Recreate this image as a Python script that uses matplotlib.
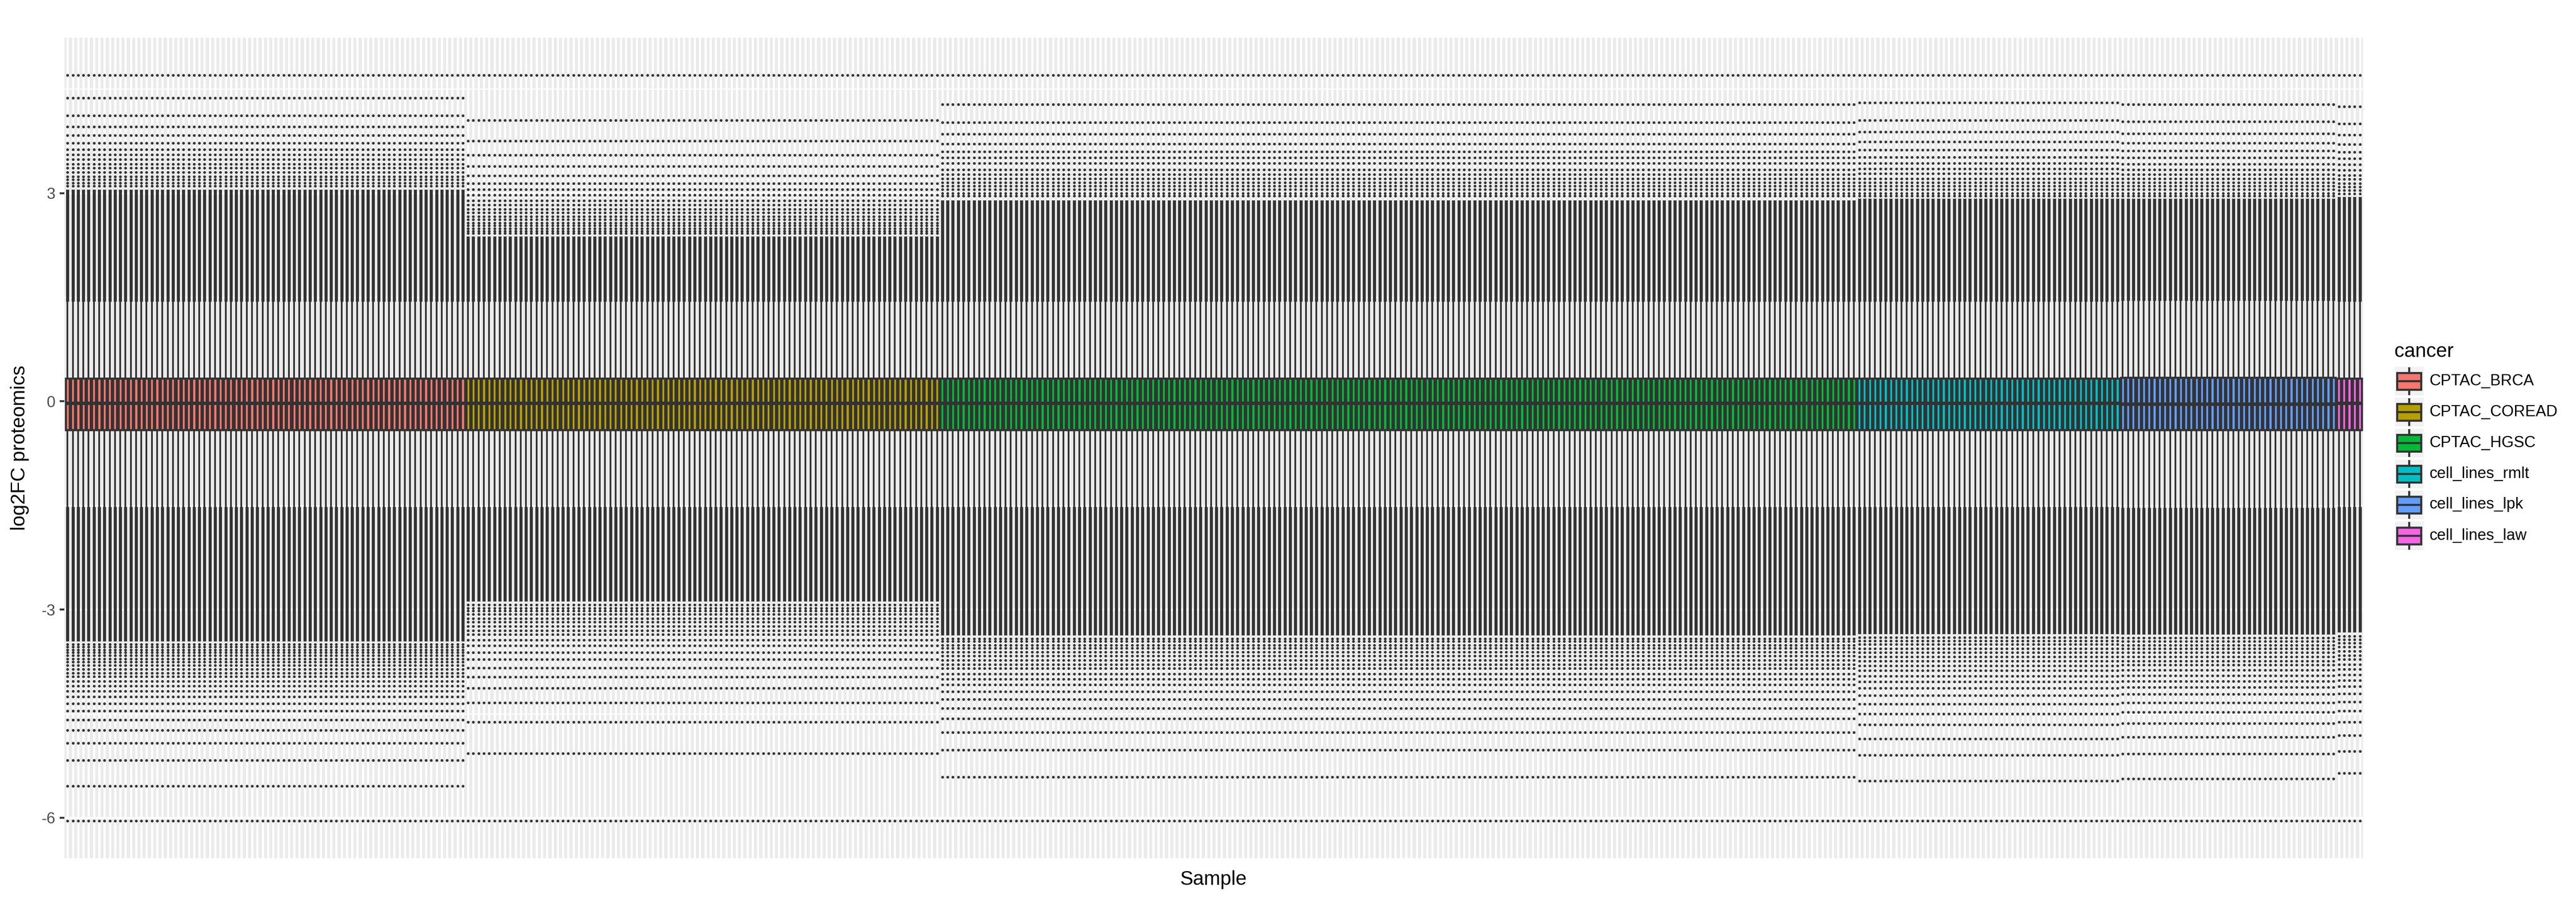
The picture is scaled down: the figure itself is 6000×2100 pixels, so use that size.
import numpy as np
import matplotlib
matplotlib.use("Agg")
import matplotlib.pyplot as plt
from matplotlib.patches import Rectangle
from matplotlib.lines import Line2D

plt.rcParams['font.family'] = ['Liberation Sans', 'DejaVu Sans']

# ---------------- data ----------------
cancers = ["CPTAC_BRCA", "CPTAC_COREAD", "CPTAC_HGSC",
           "cell_lines_rmlt", "cell_lines_lpk", "cell_lines_law"]
n_samples = [76, 90, 174, 50, 41, 5]
fill_colors = ["#F8766D", "#B79F00", "#00BA38", "#00BFC4", "#619CFF", "#F564E3"]

# box statistics per cancer group (log2FC)
q1_vals = [-0.41, -0.41, -0.41, -0.41, -0.41, -0.41]
median_vals = [-0.03, -0.03, -0.03, -0.03, -0.04, -0.03]
q3_vals = [0.33, 0.33, 0.33, 0.33, 0.34, 0.33]
whisker_low = [-1.52, -1.52, -1.52, -1.52, -1.53, -1.52]
whisker_high = [1.44, 1.44, 1.44, 1.44, 1.45, 1.44]

# extreme constant outlier rows shared by all samples
outlier_max = 4.70
outlier_min = -6.045

# outer end of the dense (merged) runs of outliers next to the whiskers
dense_top_end = [3.05, 2.38, 2.90, 2.92, 2.92, 2.95]
dense_bottom_end = [-3.46, -2.88, -3.37, -3.35, -3.36, -3.33]

# separated outlier rows above the dense run
top_outliers = [
    [4.37, 4.12, 3.955, 3.83, 3.72, 3.63, 3.556, 3.488, 3.42, 3.36, 3.30, 3.24, 3.195, 3.147, 3.10],
    [4.05, 3.75, 3.55, 3.39, 3.25, 3.14, 3.05, 2.97, 2.89, 2.83, 2.77, 2.716, 2.66, 2.62, 2.57, 2.53, 2.49, 2.45, 2.42],
    [4.28, 4.02, 3.85, 3.71, 3.60, 3.51, 3.43, 3.34, 3.27, 3.205, 3.15, 3.10, 3.05, 3.00, 2.96],
    [4.30, 4.05, 3.88, 3.74, 3.62, 3.52, 3.43, 3.35, 3.28, 3.21, 3.15, 3.10, 3.05, 3.00, 2.96],
    [4.28, 4.03, 3.86, 3.72, 3.61, 3.51, 3.42, 3.34, 3.27, 3.21, 3.15, 3.10, 3.05, 3.00, 2.96],
    [4.25, 4.00, 3.84, 3.70, 3.59, 3.50, 3.41, 3.33, 3.26, 3.20, 3.14, 3.09, 3.04, 2.99],
]
# separated outlier rows below the dense run
bottom_outliers = [
    [-3.50, -3.54, -3.58, -3.62, -3.66, -3.71, -3.757, -3.806, -3.858, -3.914, -3.967, -4.03,
     -4.10, -4.174, -4.257, -4.356, -4.46, -4.587, -4.74, -4.925, -5.17, -5.54],
    [-2.93, -2.98, -3.02, -3.07, -3.13, -3.18, -3.24, -3.30, -3.36, -3.44, -3.52, -3.62,
     -3.72, -3.84, -3.97, -4.13, -4.34, -4.62, -5.07],
    [-3.42, -3.46, -3.51, -3.556, -3.61, -3.67, -3.73, -3.79, -3.85, -3.93, -4.00, -4.085,
     -4.18, -4.29, -4.42, -4.57, -4.77, -5.02, -5.41],
    [-3.40, -3.45, -3.50, -3.56, -3.62, -3.68, -3.74, -3.81, -3.88, -3.96, -4.04, -4.13,
     -4.24, -4.36, -4.50, -4.66, -4.86, -5.10, -5.47],
    [-3.41, -3.46, -3.51, -3.56, -3.62, -3.68, -3.74, -3.80, -3.87, -3.95, -4.03, -4.12,
     -4.22, -4.34, -4.48, -4.64, -4.84, -5.08, -5.44],
    [-3.38, -3.43, -3.48, -3.54, -3.60, -3.66, -3.72, -3.79, -3.86, -3.94, -4.02, -4.11,
     -4.21, -4.33, -4.46, -4.62, -4.81, -5.04, -5.36],
]

y_ticks = [-6, -3, 0, 3]
y_tick_labels = ["-6", "-3", "0", "3"]
y_minor = [-4.5, -1.5, 1.5, 4.5]

# ---------------- figure ----------------
W, H = 6000, 2100
fig = plt.figure(figsize=(20, 7), dpi=300)
pl, pr, pt, pb = 150, 5504, 88, 1998
ax = fig.add_axes([pl / W, 1 - pb / H, (pr - pl) / W, (pb - pt) / H])
ax.set_facecolor("#EBEBEB")
for s in ax.spines.values():
    s.set_visible(False)

stats, facecols, grp_idx = [], [], []
for g, cnt in enumerate(n_samples):
    fl = np.array([outlier_max] + top_outliers[g] + bottom_outliers[g] + [outlier_min])
    for i in range(cnt):
        stats.append(dict(med=median_vals[g], q1=q1_vals[g], q3=q3_vals[g],
                          whislo=whisker_low[g], whishi=whisker_high[g], fliers=fl))
        facecols.append(fill_colors[g])
        grp_idx.append(g)
grp_idx = np.array(grp_idx)
positions = np.arange(len(stats))

dark = "#333333"
# dense runs of outliers (merged dots)
ax.vlines(positions, np.array(whisker_high)[grp_idx], np.array(dense_top_end)[grp_idx],
          colors=dark, lw=1.7, zorder=2)
ax.vlines(positions, np.array(whisker_low)[grp_idx], np.array(dense_bottom_end)[grp_idx],
          colors=dark, lw=1.7, zorder=2)

bp = ax.bxp(stats, positions=positions, widths=0.75, patch_artist=True,
            showcaps=False, manage_ticks=False,
            boxprops=dict(edgecolor=dark, linewidth=1.15),
            whiskerprops=dict(color=dark, linewidth=1.0),
            medianprops=dict(color=dark, linewidth=1.9, solid_capstyle="butt"),
            flierprops=dict(marker="o", markersize=1.55, markerfacecolor=dark,
                            markeredgewidth=0, linestyle="none"))
for patch, c in zip(bp["boxes"], facecols):
    patch.set_facecolor(c)

n = len(stats)
ax.set_xlim(-0.6, n - 1 + 0.6)
lo, hi = outlier_min, outlier_max
ext = 0.05 * (hi - lo)
ax.set_ylim(lo - ext, hi + ext)

ax.set_xticks(positions)
ax.set_xticklabels([])
ax.tick_params(axis="x", length=0)
ax.set_yticks(y_ticks)
ax.set_yticklabels(y_tick_labels)
ax.set_yticks(y_minor, minor=True)
ax.tick_params(axis="y", which="major", length=2.75, width=1.07, color=dark,
               pad=2.2, labelsize=8.8, labelcolor="#4D4D4D")
ax.tick_params(axis="y", which="minor", length=0)
ax.set_axisbelow(True)
ax.grid(True, axis="x", which="major", color="white", lw=1.2)
ax.grid(True, axis="y", which="major", color="white", lw=1.3)
ax.grid(True, axis="y", which="minor", color="white", lw=0.65)

# axis titles
fig.text(46 / W, 1 - (pt + pb) / 2 / H, "log2FC proteomics", rotation=90,
         ha="center", va="center", fontsize=11)
fig.text((pl + pr) / 2 / W, 1 - 2048 / H, "Sample", ha="center", va="center", fontsize=11)

# legend drawn in pixel coordinates
lax = fig.add_axes([0, 0, 1, 1])
lax.set_xlim(0, W)
lax.set_ylim(H, 0)
lax.axis("off")
lax.patch.set_visible(False)
lax.text(5577, 819, "cancer", ha="left", va="center", fontsize=11)
kx0, kw, kh, kpitch, ky0 = 5577.5, 67, 67, 72, 887
for k, (lab, col) in enumerate(zip(cancers, fill_colors)):
    yc = ky0 + k * kpitch
    lax.add_patch(Rectangle((kx0, yc - kh / 2), kw, kh, facecolor="#F2F2F2", edgecolor="none"))
    xc = kx0 + kw / 2
    lax.add_line(Line2D([xc, xc], [yc - 30, yc - 19.5], color=dark, lw=1.15))
    lax.add_line(Line2D([xc, xc], [yc + 19.5, yc + 30], color=dark, lw=1.15))
    lax.add_patch(Rectangle((kx0 + 5.5, yc - 19.5), kw - 11, 39, facecolor=col,
                            edgecolor=dark, lw=1.15))
    lax.add_line(Line2D([kx0 + 5.5, kx0 + kw - 5.5], [yc, yc], color=dark, lw=1.15))
    lax.text(5658, yc, lab, ha="left", va="center", fontsize=8.8)

fig.savefig("out.png", dpi=300, facecolor="white")
